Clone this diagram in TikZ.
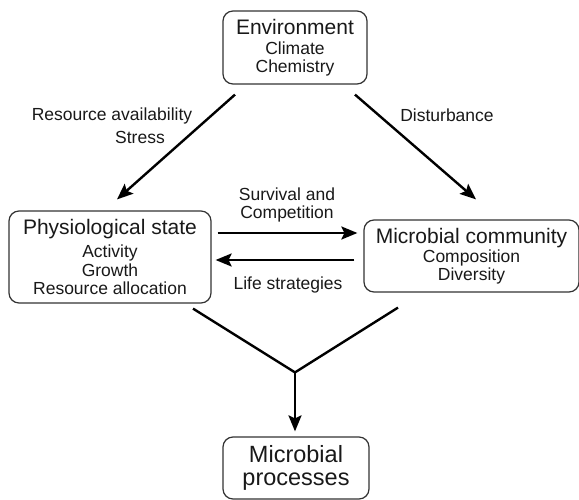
\documentclass[tikz,border=0pt]{standalone}
\usepackage{fontspec}
\setmainfont{Liberation Sans}
\usetikzlibrary{arrows.meta,calc}
\newcommand\ttlf{\fontsize{21}{18.5}\selectfont}
\newcommand\subf{\fontsize{17.5}{18.5}\selectfont}
\newcommand\mpf{\fontsize{23.5}{23}\selectfont}
\begin{document}
\begin{tikzpicture}[x=1pt,y=-1pt,
  box/.style={draw=black!80, line width=1.2pt, rounded corners=10pt, align=center, inner sep=0pt, font=\subf, text=black!90},
  conn/.style={draw=black, line width=2.4pt, -{Stealth[length=16pt,width=13pt,inset=3pt]}},
  plainline/.style={draw=black, line width=2.4pt},
  lbl/.style={font=\subf, inner sep=0pt, text=black!90}]
\useasboundingbox (0,0) rectangle (579,500);
\fill[white] (0,0) rectangle (579,500);

\node[box, minimum width=144pt, minimum height=73pt] (env) at (295,47.5)
  {\ttlf Environment\\[1.5pt]Climate\\Chemistry};
\node[box, minimum width=202pt, minimum height=92pt] (phys) at (110,257)
  {\ttlf Physiological state\\[4.5pt]Activity\\Growth\\Resource allocation};
\node[box, minimum width=215pt, minimum height=72pt] (mc) at (471.5,256)
  {\ttlf Microbial community\\[0.5pt]Composition\\Diversity};
\node[box, font=\mpf, minimum width=146pt, minimum height=62pt] (mp) at (296,468)
  {Microbial\\processes};

\draw[conn] ($(env.south)+(-60,10)$) -- ($(phys.north)+(7,-11)$);
\draw[conn] ($(env.south)+(60,10)$) -- ($(mc.north)+(4.5,-20)$);
\draw[conn] ($(phys.east)+(6,-24)$) -- ($(mc.west)+(-6,-23)$);
\draw[conn] ($(mc.west)+(-9,4)$) -- ($(phys.east)+(4,3)$);

\coordinate (j) at ($(mp.north)+(-1,-64)$);
\draw[plainline] ($(phys.south)+(83,5)$) -- (j) -- ($(mc.south)+(-73.5,15)$);
\draw[conn] (j) -- ($(mp.north)+(-1,-5)$);

\node[lbl] (ra) at (112,116) {Resource availability};
\node[lbl] (st) at (140,137) {Stress};
\node[lbl] (dist) at (447,115) {Disturbance};
\node[lbl, align=center] (sc) at (287,205) {Survival and\\Competition};
\node[lbl] (ls) at (288,285) {Life strategies};
\end{tikzpicture}
\end{document}
